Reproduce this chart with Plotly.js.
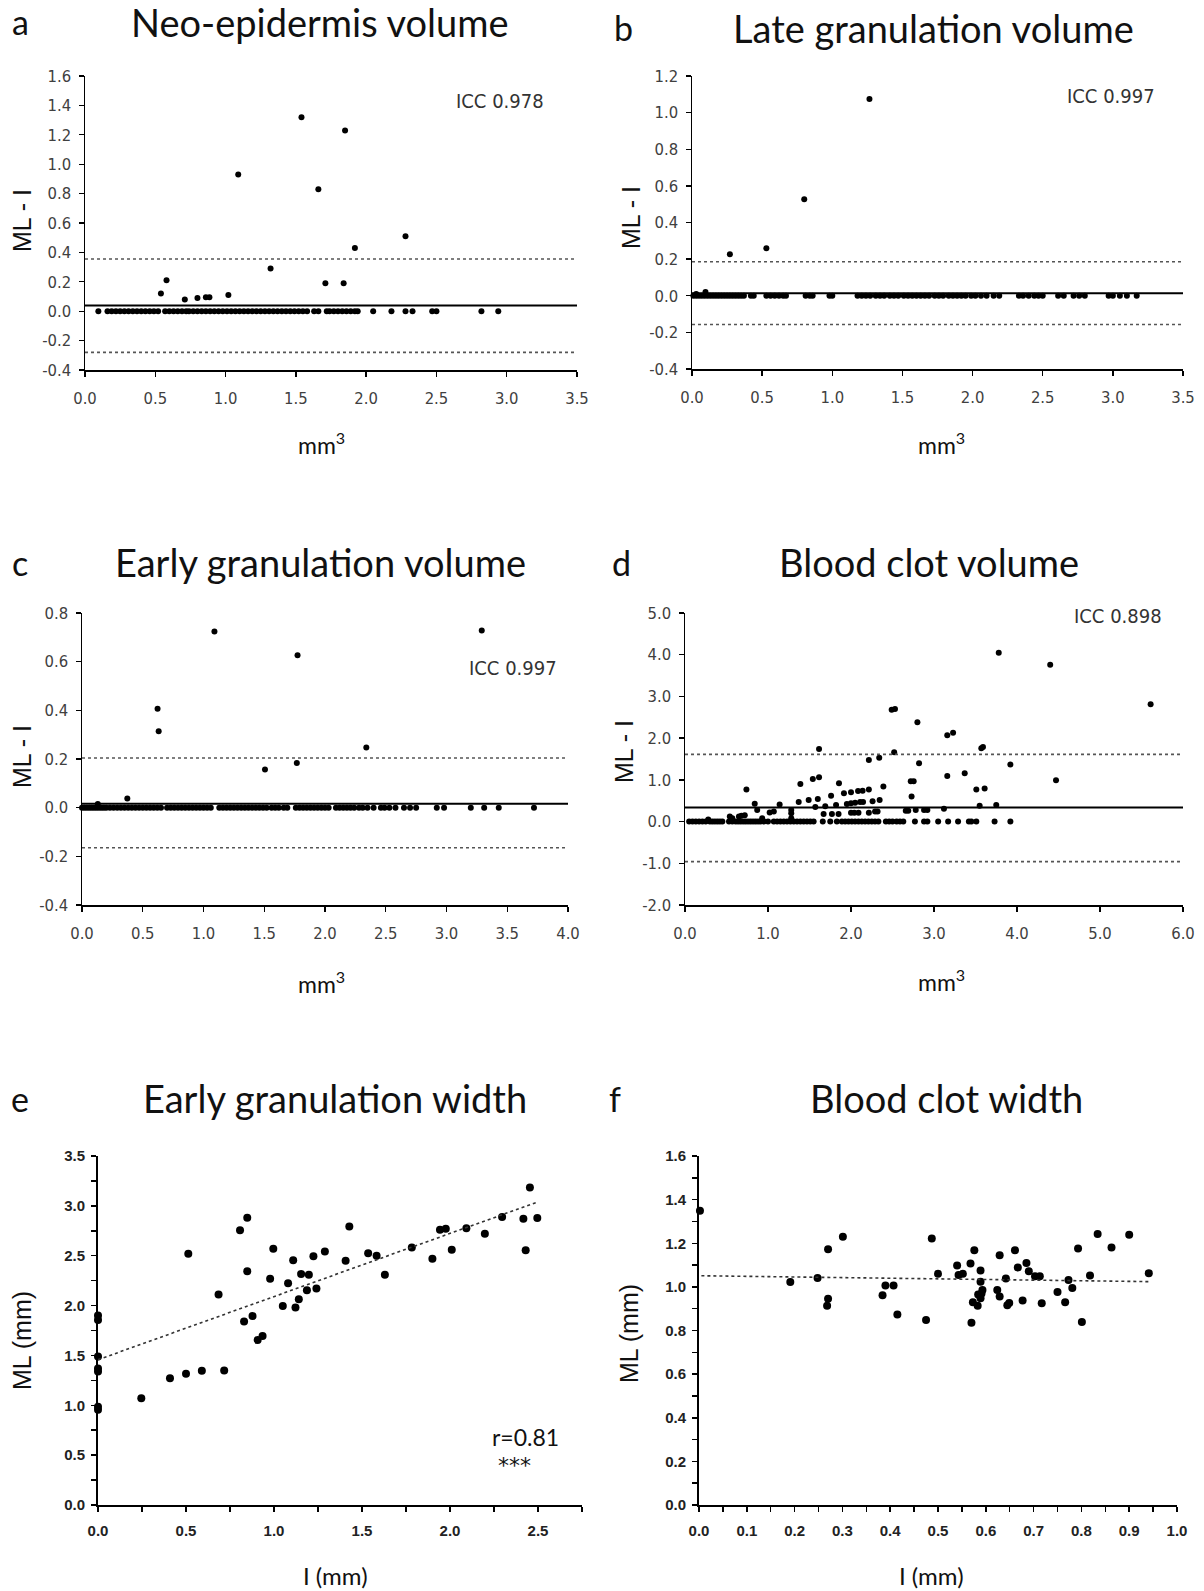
<!DOCTYPE html>
<html>
<head>
<meta charset="utf-8">
<script src="https://cdn.plot.ly/plotly-3.0.1.min.js"></script>
<style>
  html, body { margin: 0; padding: 0; background: #fff; }
  #chart { width: 1204px; height: 1591px; }
</style>
</head>
<body>
<div id="chart"></div>
<script>
// ---------------- DATA ----------------
// Panel a: Neo-epidermis volume (Bland-Altman, ML - I vs mm3)
const aZeroX = [0.095, 0.16, 0.19, 0.22, 0.25, 0.28, 0.31, 0.34, 0.37, 0.40, 0.43, 0.46, 0.49, 0.52,
  0.57, 0.60, 0.63, 0.66, 0.69, 0.72, 0.74, 0.77, 0.80, 0.83, 0.86,
  0.89, 0.92, 0.95, 0.98, 1.01, 1.04, 1.07, 1.10, 1.13, 1.16, 1.19, 1.22, 1.25, 1.28, 1.31, 1.34,
  1.37, 1.40, 1.43, 1.46, 1.49, 1.52, 1.55, 1.58, 1.63, 1.66,
  1.72, 1.74, 1.77, 1.80, 1.83, 1.86, 1.89, 1.92, 1.94,
  2.05, 2.18, 2.28, 2.33, 2.47, 2.50, 2.82, 2.94];
const aX = [1.54, 1.85, 1.09, 1.66, 2.28, 1.92, 1.32, 0.58, 1.71, 1.84, 0.54, 1.02, 0.71, 0.80, 0.86, 0.885];
const aY = [1.32, 1.23, 0.93, 0.83, 0.51, 0.43, 0.29, 0.21, 0.19, 0.19, 0.12, 0.11, 0.08, 0.09, 0.095, 0.095];
const aLines = {mean: 0.038, upper: 0.355, lower: -0.28};
const aRangeX = [0, 3.5], aRangeY = [-0.4, 1.6];
const aTickX = [0, 0.5, 1.0, 1.5, 2.0, 2.5, 3.0, 3.5];
const aTickXText = ['0.0', '0.5', '1.0', '1.5', '2.0', '2.5', '3.0', '3.5'];
const aTickY = [-0.4, -0.2, 0, 0.2, 0.4, 0.6, 0.8, 1.0, 1.2, 1.4, 1.6];
const aTickYText = ['-0.4', '-0.2', '0.0', '0.2', '0.4', '0.6', '0.8', '1.0', '1.2', '1.4', '1.6'];

// Panel b: Late granulation volume
const bZeroX = [0.01, 0.03, 0.05, 0.07, 0.09, 0.11, 0.13, 0.15, 0.17, 0.19, 0.21, 0.23, 0.25, 0.27, 0.29, 0.31, 0.33, 0.35, 0.37,
  0.42, 0.44, 0.53, 0.56, 0.59, 0.62, 0.65, 0.67, 0.81, 0.84, 0.86, 0.98, 1.00,
  1.18, 1.21, 1.24, 1.27, 1.31, 1.34, 1.37, 1.41, 1.44, 1.47, 1.51, 1.54, 1.57, 1.60, 1.63, 1.66, 1.69,
  1.73, 1.76, 1.79, 1.83, 1.86, 1.89, 1.92, 1.95, 1.99, 2.02, 2.06, 2.10, 2.15, 2.19,
  2.33, 2.36, 2.40, 2.44, 2.47, 2.50, 2.61, 2.65, 2.72, 2.76, 2.80, 2.97, 3.00, 3.05, 3.10, 3.17];
const bX = [1.265, 0.80, 0.53, 0.27, 0.096, 0.03];
const bY = [1.075, 0.527, 0.26, 0.226, 0.02, 0.01];
const bLines = {mean: 0.013, upper: 0.186, lower: -0.157};
const bRangeX = [0, 3.5], bRangeY = [-0.4, 1.2];
const bTickX = [0, 0.5, 1.0, 1.5, 2.0, 2.5, 3.0, 3.5];
const bTickXText = ['0.0', '0.5', '1.0', '1.5', '2.0', '2.5', '3.0', '3.5'];
const bTickY = [-0.4, -0.2, 0, 0.2, 0.4, 0.6, 0.8, 1.0, 1.2];
const bTickYText = ['-0.4', '-0.2', '0.0', '0.2', '0.4', '0.6', '0.8', '1.0', '1.2'];

// Panel c: Early granulation volume
const cZeroX = [0.00, 0.02, 0.04, 0.06, 0.08, 0.10, 0.12, 0.14, 0.16, 0.18, 0.20, 0.23, 0.26, 0.29, 0.32, 0.35, 0.38, 0.41, 0.44, 0.47, 0.50, 0.53, 0.56, 0.59, 0.62, 0.65,
  0.70, 0.73, 0.76, 0.79, 0.82, 0.85, 0.88, 0.91, 0.94, 0.97, 1.00, 1.03, 1.06,
  1.13, 1.16, 1.19, 1.22, 1.25, 1.28, 1.31, 1.34, 1.37, 1.40, 1.43, 1.46, 1.49, 1.52,
  1.56, 1.59, 1.62, 1.66, 1.69,
  1.76, 1.79, 1.82, 1.85, 1.88, 1.91, 1.94, 1.97, 2.00, 2.03, 2.09, 2.12, 2.15, 2.18, 2.21, 2.24,
  2.28, 2.31, 2.35, 2.40, 2.46, 2.49, 2.53, 2.58, 2.65, 2.70, 2.75,
  2.92, 2.98, 3.20, 3.31, 3.43, 3.72];
const cX = [1.09, 3.29, 1.774, 0.622, 0.631, 2.34, 1.506, 1.768, 0.373, 0.13];
const cY = [0.724, 0.728, 0.626, 0.407, 0.314, 0.247, 0.157, 0.184, 0.038, 0.015];
const cLines = {mean: 0.016, upper: 0.204, lower: -0.165};
const cRangeX = [0, 4.0], cRangeY = [-0.4, 0.8];
const cTickX = [0, 0.5, 1.0, 1.5, 2.0, 2.5, 3.0, 3.5, 4.0];
const cTickXText = ['0.0', '0.5', '1.0', '1.5', '2.0', '2.5', '3.0', '3.5', '4.0'];
const cTickY = [-0.4, -0.2, 0, 0.2, 0.4, 0.6, 0.8];
const cTickYText = ['-0.4', '-0.2', '0.0', '0.2', '0.4', '0.6', '0.8'];

// Panel d: Blood clot volume
const dZeroX = [0.05, 0.09, 0.13, 0.17, 0.21, 0.25, 0.30, 0.33, 0.36, 0.39, 0.42, 0.45, 0.53, 0.57, 0.61, 0.64, 0.67, 0.70, 0.73,
  0.76, 0.79, 0.82, 0.85, 0.88, 0.91, 0.95, 1.00, 1.07, 1.11, 1.15, 1.19, 1.23, 1.27, 1.31, 1.35, 1.39, 1.43, 1.47, 1.51, 1.55,
  1.66, 1.75, 1.83, 1.89, 1.93, 1.97, 2.01, 2.05, 2.09, 2.13, 2.17, 2.21, 2.25, 2.29, 2.33, 2.42, 2.46, 2.50, 2.55, 2.59, 2.63,
  2.77, 2.88, 2.92, 3.05, 3.17, 3.29, 3.42, 3.45, 3.51, 3.73, 3.92];
const dX = [3.78, 4.40, 5.61, 2.49, 2.53, 2.80, 3.16, 3.23, 1.615, 2.52, 3.57, 3.59, 2.215, 2.34, 2.82, 3.92, 3.37, 3.16, 4.47,
  1.54, 1.615, 1.39, 1.855, 2.72, 2.755, 3.51, 3.61, 0.74, 2.39, 2.215, 2.085, 2.14, 2.00, 1.915, 1.76, 2.73,
  1.49, 1.60, 1.37, 2.345, 2.26, 2.145, 2.11, 2.05, 2.00, 1.95, 0.84, 1.14, 1.69, 1.82, 1.57, 3.55, 3.75, 3.12,
  2.78, 2.88, 2.92, 2.66, 2.69, 0.87, 1.28, 1.02, 1.07, 1.28, 1.67, 1.77, 1.85, 2.00, 2.04, 2.09, 2.215, 2.29, 2.32,
  0.54, 0.57, 0.65, 0.68, 0.72, 0.93, 0.28, 1.28];
const dY = [4.05, 3.76, 2.81, 2.68, 2.70, 2.38, 2.07, 2.13, 1.74, 1.66, 1.76, 1.79, 1.475, 1.53, 1.40, 1.37, 1.16, 1.09, 0.99,
  1.02, 1.06, 0.90, 0.92, 0.965, 0.965, 0.77, 0.79, 0.77, 0.84, 0.77, 0.73, 0.74, 0.70, 0.68, 0.62, 0.60,
  0.52, 0.54, 0.47, 0.52, 0.49, 0.47, 0.47, 0.45, 0.44, 0.42, 0.43, 0.41, 0.37, 0.40, 0.35, 0.38, 0.40, 0.31,
  0.28, 0.28, 0.28, 0.26, 0.26, 0.28, 0.28, 0.22, 0.24, 0.20, 0.18, 0.18, 0.18, 0.21, 0.21, 0.21, 0.21, 0.24, 0.24,
  0.12, 0.08, 0.12, 0.14, 0.15, 0.08, 0.05, 0.08];
const dLines = {mean: 0.34, upper: 1.61, lower: -0.96};
const dRangeX = [0, 6.0], dRangeY = [-2.0, 5.0];
const dTickX = [0, 1, 2, 3, 4, 5, 6];
const dTickXText = ['0.0', '1.0', '2.0', '3.0', '4.0', '5.0', '6.0'];
const dTickY = [-2, -1, 0, 1, 2, 3, 4, 5];
const dTickYText = ['-2.0', '-1.0', '0.0', '1.0', '2.0', '3.0', '4.0', '5.0'];

// Panel e: Early granulation width (ML vs I)
const eX = [0, 0, 0, 0, 0, 0, 0, 0.246, 0.409, 0.50, 0.513, 0.59, 0.685, 0.717, 0.807, 0.848, 0.83, 0.848, 0.878, 0.907,
  0.935, 0.978, 0.996, 1.05, 1.08, 1.109, 1.122, 1.141, 1.154, 1.187, 1.198, 1.224, 1.241, 1.289, 1.407, 1.428,
  1.535, 1.583, 1.63, 1.783, 1.90, 1.943, 1.976, 2.01, 2.093, 2.198, 2.296, 2.417, 2.43, 2.454, 2.496];
const eY = [1.90, 1.855, 1.49, 1.37, 1.34, 0.985, 0.955, 1.07, 1.27, 1.316, 2.52, 1.346, 2.11, 1.35, 2.756, 2.88, 1.84, 2.344, 1.895, 1.654,
  1.695, 2.27, 2.57, 1.996, 2.224, 2.455, 1.98, 2.063, 2.317, 2.153, 2.31, 2.495, 2.17, 2.542, 2.45, 2.793,
  2.525, 2.50, 2.31, 2.582, 2.47, 2.76, 2.77, 2.56, 2.776, 2.72, 2.887, 2.87, 2.555, 3.185, 2.877];
const eTrendX = [0, 2.5], eTrendY = [1.457, 3.04];
const eRangeX = [0, 2.75], eRangeY = [0, 3.5];
const eTickX = [0, 0.5, 1.0, 1.5, 2.0, 2.5];
const eTickXText = ['0.0', '0.5', '1.0', '1.5', '2.0', '2.5'];
const eTickY = [0, 0.5, 1.0, 1.5, 2.0, 2.5, 3.0, 3.5];
const eTickYText = ['0.0', '0.5', '1.0', '1.5', '2.0', '2.5', '3.0', '3.5'];

// Panel f: Blood clot width (ML vs I)
const fX = [0.002, 0.191, 0.248, 0.270, 0.270, 0.268, 0.301, 0.384, 0.39, 0.407, 0.415, 0.475, 0.487, 0.50, 0.54, 0.543, 0.552,
  0.568, 0.576, 0.573, 0.57, 0.583, 0.584, 0.589, 0.589, 0.589, 0.591, 0.593, 0.624, 0.629, 0.629, 0.642, 0.645, 0.649,
  0.661, 0.667, 0.677, 0.685, 0.69, 0.703, 0.713, 0.717, 0.75, 0.766, 0.773, 0.781, 0.793, 0.801, 0.818, 0.834, 0.863, 0.90, 0.941];
const fY = [1.349, 1.022, 1.041, 1.172, 0.946, 0.914, 1.23, 0.962, 1.006, 1.006, 0.873, 0.848, 1.222, 1.06, 1.098, 1.054, 1.06,
  1.107, 1.168, 0.93, 0.836, 0.913, 0.965, 1.075, 1.024, 0.948, 0.97, 0.986, 0.986, 1.145, 0.956, 1.038, 0.916, 0.926,
  1.168, 1.089, 0.937, 1.11, 1.072, 1.049, 1.049, 0.925, 0.977, 0.93, 1.032, 0.995, 1.176, 0.839, 1.052, 1.242, 1.181, 1.239, 1.063];
const fTrendX = [0.005, 0.943], fTrendY = [1.051, 1.024];
const fRangeX = [0, 1.0], fRangeY = [0, 1.6];
const fTickX = [0, 0.1, 0.2, 0.3, 0.4, 0.5, 0.6, 0.7, 0.8, 0.9, 1.0];
const fTickXText = ['0.0', '0.1', '0.2', '0.3', '0.4', '0.5', '0.6', '0.7', '0.8', '0.9', '1.0'];
const fTickY = [0, 0.2, 0.4, 0.6, 0.8, 1.0, 1.2, 1.4, 1.6];
const fTickYText = ['0.0', '0.2', '0.4', '0.6', '0.8', '1.0', '1.2', '1.4', '1.6'];

// Text
const panelLetters = ['a', 'b', 'c', 'd', 'e', 'f'];
const panelTitles = ['Neo-epidermis volume', 'Late granulation volume', 'Early granulation volume',
  'Blood clot volume', 'Early granulation width', 'Blood clot width'];
const iccTexts = ['ICC 0.978', 'ICC 0.997', 'ICC 0.997', 'ICC 0.898'];
const corrText = ['r=0.81', '***'];

// ---------------- LAYOUT HELPERS ----------------
const W = 1204, H = 1591;
const px = v => v / W;
const py = v => 1 - v / H;
const dom = (x0, x1, y0, y1) => ({x: [px(x0), px(x1)], y: [py(y1), py(y0)]});

const boxes = [
  dom(85, 577, 76, 370),
  dom(692, 1183, 76, 369),
  dom(82, 568, 613, 905),
  dom(685, 1183, 613, 905),
  dom(98, 582, 1156, 1505),
  dom(699, 1177, 1156, 1505)
];

const narrowFont = 'Liberation Sans Narrow, DejaVu Sans Condensed, Arial Narrow, sans-serif';
const calFont = 'Lato, Open Sans, sans-serif';
const arialFont = 'Liberation Sans, Arial, sans-serif';

const traces = [];
const zeros = arr => arr.map(() => 0);

function baBlock(i, zx, x, y, lines, rangeX) {
  const ax = i === 0 ? '' : String(i + 1);
  const xa = 'x' + ax, ya = 'y' + ax;
  traces.push({x: zx, y: zeros(zx), xaxis: xa, yaxis: ya, type: 'scatter', mode: 'markers',
    marker: {size: 6, color: '#000'}, cliponaxis: false, hoverinfo: 'skip'});
  traces.push({x: x, y: y, xaxis: xa, yaxis: ya, type: 'scatter', mode: 'markers',
    marker: {size: 6, color: '#000'}, cliponaxis: false, hoverinfo: 'skip'});
  traces.push({x: rangeX, y: [lines.upper, lines.upper], xaxis: xa, yaxis: ya, type: 'scatter', mode: 'lines',
    line: {color: '#555', width: 1.6, dash: 'dot'}, hoverinfo: 'skip'});
  traces.push({x: rangeX, y: [lines.lower, lines.lower], xaxis: xa, yaxis: ya, type: 'scatter', mode: 'lines',
    line: {color: '#555', width: 1.6, dash: 'dot'}, hoverinfo: 'skip'});
  traces.push({x: rangeX, y: [lines.mean, lines.mean], xaxis: xa, yaxis: ya, type: 'scatter', mode: 'lines',
    line: {color: '#000', width: 2}, hoverinfo: 'skip'});
}

baBlock(0, aZeroX, aX, aY, aLines, aRangeX);
baBlock(1, bZeroX, bX, bY, bLines, bRangeX);
baBlock(2, cZeroX, cX, cY, cLines, cRangeX);
baBlock(3, dZeroX, dX, dY, dLines, dRangeX);

traces.push({x: eX, y: eY, xaxis: 'x5', yaxis: 'y5', type: 'scatter', mode: 'markers',
  marker: {size: 8, color: '#000'}, cliponaxis: false, hoverinfo: 'skip'});
traces.push({x: eTrendX, y: eTrendY, xaxis: 'x5', yaxis: 'y5', type: 'scatter', mode: 'lines',
  line: {color: '#333', width: 1.6, dash: 'dot'}, hoverinfo: 'skip'});
traces.push({x: fX, y: fY, xaxis: 'x6', yaxis: 'y6', type: 'scatter', mode: 'markers',
  marker: {size: 8, color: '#000'}, cliponaxis: false, hoverinfo: 'skip'});
traces.push({x: fTrendX, y: fTrendY, xaxis: 'x6', yaxis: 'y6', type: 'scatter', mode: 'lines',
  line: {color: '#333', width: 1.6, dash: 'dot'}, hoverinfo: 'skip'});

function baAxis(dm, range, tv, tt, isY, anchor) {
  return {
    domain: dm, range: range, anchor: anchor, fixedrange: true,
    tickmode: 'array', tickvals: tv, ticktext: tt,
    showgrid: false, zeroline: false, showline: true, linecolor: '#000', linewidth: 1.5,
    ticks: 'outside', ticklen: 5, tickwidth: 1.3, tickcolor: '#000',
    tickfont: {family: narrowFont, size: 16.5, color: '#404040'},
    ticklabelstandoff: isY ? 4 : 8
  };
}
function scAxis(dm, range, tv, tt, minorD, anchor, isY) {
  return {
    domain: dm, range: range, anchor: anchor, fixedrange: true,
    tickmode: 'array', tickvals: tv, ticktext: tt,
    showgrid: false, zeroline: false, showline: true, linecolor: '#000', linewidth: 2,
    ticks: 'outside', ticklen: 5, tickwidth: 1.5, tickcolor: '#000',
    minor: {dtick: minorD, ticks: 'outside', ticklen: 5, tickwidth: 1.5, tickcolor: '#000', showgrid: false},
    tickfont: {family: arialFont, size: 15, color: '#222', weight: 'bold'},
    ticklabelstandoff: isY ? 3 : 6
  };
}

const layout = {
  width: W, height: H,
  margin: {l: 0, r: 0, t: 0, b: 0},
  paper_bgcolor: '#fff', plot_bgcolor: 'rgba(0,0,0,0)',
  showlegend: false,
  xaxis: baAxis(boxes[0].x, aRangeX, aTickX, aTickXText, false, 'y'),
  yaxis: baAxis(boxes[0].y, aRangeY, aTickY, aTickYText, true, 'x'),
  xaxis2: baAxis(boxes[1].x, bRangeX, bTickX, bTickXText, false, 'y2'),
  yaxis2: baAxis(boxes[1].y, bRangeY, bTickY, bTickYText, true, 'x2'),
  xaxis3: baAxis(boxes[2].x, cRangeX, cTickX, cTickXText, false, 'y3'),
  yaxis3: baAxis(boxes[2].y, cRangeY, cTickY, cTickYText, true, 'x3'),
  xaxis4: baAxis(boxes[3].x, dRangeX, dTickX, dTickXText, false, 'y4'),
  yaxis4: baAxis(boxes[3].y, dRangeY, dTickY, dTickYText, true, 'x4'),
  xaxis5: scAxis(boxes[4].x, eRangeX, eTickX, eTickXText, 0.25, 'y5', false),
  yaxis5: scAxis(boxes[4].y, eRangeY, eTickY, eTickYText, 0.25, 'x5', true),
  xaxis6: scAxis(boxes[5].x, fRangeX, fTickX, fTickXText, 0.05, 'y6', false),
  yaxis6: scAxis(boxes[5].y, fRangeY, fTickY, fTickYText, 0.1, 'x6', true),
  annotations: []
};

function ann(text, x, y, font, extra) {
  layout.annotations.push(Object.assign({
    text: text, xref: 'paper', yref: 'paper', x: px(x), y: py(y),
    xanchor: 'center', yanchor: 'middle', showarrow: false, font: font
  }, extra || {}));
}

// Panel letters and titles
const letterPos = [[20, 22], [623, 27], [20, 562], [621, 562], [20, 1098], [615, 1098]];
const titlePos = [[320, 22], [933, 28], [320, 562], [929, 562], [335, 1098], [946, 1098]];
panelLetters.forEach((t, i) => ann(t, letterPos[i][0], letterPos[i][1], {family: calFont, size: 34, color: '#111'}));
panelTitles.forEach((t, i) => ann(t, titlePos[i][0], titlePos[i][1], {family: calFont, size: 38, color: '#111'}));

// Y axis titles
const yTitlePos = [[22, 221], [631, 218], [22, 757], [624, 752]];
yTitlePos.forEach(p => ann('ML - I', p[0], p[1], {family: arialFont, size: 25, color: '#111'}, {textangle: -90}));
ann('ML (mm)', 22, 1341, {family: arialFont, size: 25, color: '#111'}, {textangle: -90});
ann('ML (mm)', 629, 1334, {family: arialFont, size: 25, color: '#111'}, {textangle: -90});

// X axis titles
const xTitlePos = [[322, 443], [941, 443], [322, 982], [941, 980]];
xTitlePos.forEach(p => ann('mm<sup>3</sup>', p[0], p[1], {family: calFont, size: 23, color: '#111'}));
ann('I (mm)', 335, 1575, {family: calFont, size: 24, color: '#111'});
ann('I (mm)', 931, 1575, {family: calFont, size: 24, color: '#111'});

// ICC labels
const iccPos = [[500, 101], [1111, 96], [513, 668], [1118, 616]];
iccTexts.forEach((t, i) => ann(t, iccPos[i][0], iccPos[i][1], {family: narrowFont, size: 20, color: '#333'}));

// Correlation labels
ann(corrText[0], 525, 1437, {family: calFont, size: 23, color: '#111'});
ann(corrText[1], 514, 1465, {family: 'DejaVu Sans, sans-serif', size: 22, color: '#111'});

Plotly.newPlot('chart', traces, layout, {staticPlot: true, displayModeBar: false});
</script>
</body>
</html>
